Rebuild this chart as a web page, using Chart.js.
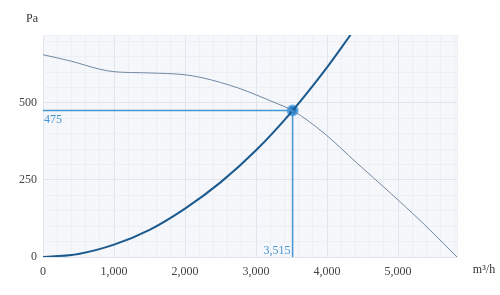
<!DOCTYPE html>
<html>
<head>
<meta charset="utf-8">
<script src="https://cdn.jsdelivr.net/npm/chart.js@4"></script>
<style>
  body { margin: 0; background: #fff; }
  #chart { display: block; }
</style>
</head>
<body>
<canvas id="chart" width="500" height="295"></canvas>
<script>
// flow (m³/h) and pressure (Pa)
const fanFlow = [0, 400, 800, 1000, 1500, 2000, 2250, 2500, 2750, 3000, 3250, 3515, 3950, 4420, 4890, 5350, 5830];
const fanPressure = [656, 635, 609, 601, 597, 591, 581, 566, 548, 526, 502, 475, 403, 305, 208, 110, 0];

const systemFlow = [0, 500, 1000, 1500, 2000, 2500, 3000, 3515, 4000, 4330];
const systemPressure = [0, 10, 40, 88, 157, 242, 346, 475, 615, 720];

const opFlow = 3515;
const opPressure = 475;

const xMax = 5830;
const yMax = 720;
const xMajor = 1000;
const xMinor = 200;
const yMajor = 250;
const yMinor = 50;

const toPoints = (xs, ys) => xs.map((x, i) => ({ x: x, y: ys[i] }));

const serif = "'Liberation Serif', 'DejaVu Serif', serif";
const blue = "#4596d3";

// fixed tick list: minor every step, up to the axis max
function stepTicks(max, step) {
  const out = [];
  for (let v = 0; v <= max; v += step) out.push({ value: v });
  if (out[out.length - 1].value !== max) out.push({ value: max });
  return out;
}

// plot background + free text labels
const extras = {
  id: "extras",
  beforeDraw(chart) {
    const { ctx, chartArea: a } = chart;
    ctx.save();
    ctx.fillStyle = "#f5f7fa";
    ctx.fillRect(a.left, a.top, a.right - a.left, a.bottom - a.top);
    ctx.restore();
  },
  afterDraw(chart) {
    const { ctx, scales } = chart;
    const x = scales.x, y = scales.y;
    ctx.save();
    ctx.font = "12px " + serif;
    ctx.textBaseline = "middle";
    ctx.fillStyle = "#333";
    ctx.textAlign = "center";
    ctx.fillText("Pa", 32, 19);
    ctx.fillText("m³/h", 484, 270);
    ctx.fillStyle = blue;
    ctx.textAlign = "left";
    ctx.fillText(String(opPressure), x.getPixelForValue(0) + 1, y.getPixelForValue(opPressure) + 9);
    ctx.textAlign = "right";
    ctx.fillText(opFlow.toLocaleString("en-US"), x.getPixelForValue(opFlow) - 2, y.getPixelForValue(0) - 6);
    ctx.restore();
  },
};

new Chart(document.getElementById("chart"), {
  type: "line",
  data: {
    datasets: [
      {
        data: [{ x: 0, y: opPressure }, { x: opFlow, y: opPressure }],
        borderColor: blue,
        borderWidth: 1.5,
        pointRadius: 0,
      },
      {
        data: [{ x: opFlow, y: 0 }, { x: opFlow, y: opPressure }],
        borderColor: blue,
        borderWidth: 1.5,
        pointRadius: 0,
      },
      {
        data: toPoints(fanFlow, fanPressure),
        borderColor: "#7189a3",
        borderWidth: 1,
        pointRadius: 0,
        cubicInterpolationMode: "monotone",
      },
      {
        data: toPoints(systemFlow, systemPressure),
        borderColor: "#1b5a8e",
        borderWidth: 2,
        pointRadius: 0,
        cubicInterpolationMode: "monotone",
      },
      {
        data: [{ x: opFlow, y: opPressure }],
        pointRadius: 5,
        pointBackgroundColor: "#1f7bd0",
        pointBorderColor: "rgba(100,170,230,0.9)",
        pointBorderWidth: 2,
        showLine: false,
      },
    ],
  },
  options: {
    responsive: false,
    animation: false,
    events: [],
    layout: { padding: { left: 0, right: 43, top: 35, bottom: 0 } },
    plugins: { legend: { display: false }, tooltip: { enabled: false } },
    scales: {
      x: {
        type: "linear",
        min: 0,
        max: xMax,
        afterBuildTicks: (s) => { s.ticks = stepTicks(xMax, xMinor); },
        afterFit: (s) => { s.height = 38; },
        border: { display: false },
        grid: {
          drawTicks: false,
          color: (c) => (c.tick.value % xMajor === 0 ? "#e0e5eb" : "#eceff3"),
        },
        ticks: {
          autoSkip: false,
          maxRotation: 0,
          padding: 8,
          color: "#444",
          font: { family: serif, size: 12 },
          callback: (v) => (v % xMajor === 0 ? v.toLocaleString("en-US") : ""),
        },
      },
      y: {
        min: 0,
        max: yMax,
        afterBuildTicks: (s) => { s.ticks = stepTicks(yMax, yMinor); },
        afterFit: (s) => { s.width = 43; },
        border: { display: false },
        grid: {
          drawTicks: false,
          color: (c) => (c.tick.value % yMajor === 0 ? "#e0e5eb" : "#eceff3"),
        },
        ticks: {
          autoSkip: false,
          padding: 6,
          color: "#444",
          font: { family: serif, size: 12 },
          callback: (v) => (v % yMajor === 0 ? String(v) : ""),
        },
      },
    },
  },
  plugins: [extras],
});
</script>
</body>
</html>
